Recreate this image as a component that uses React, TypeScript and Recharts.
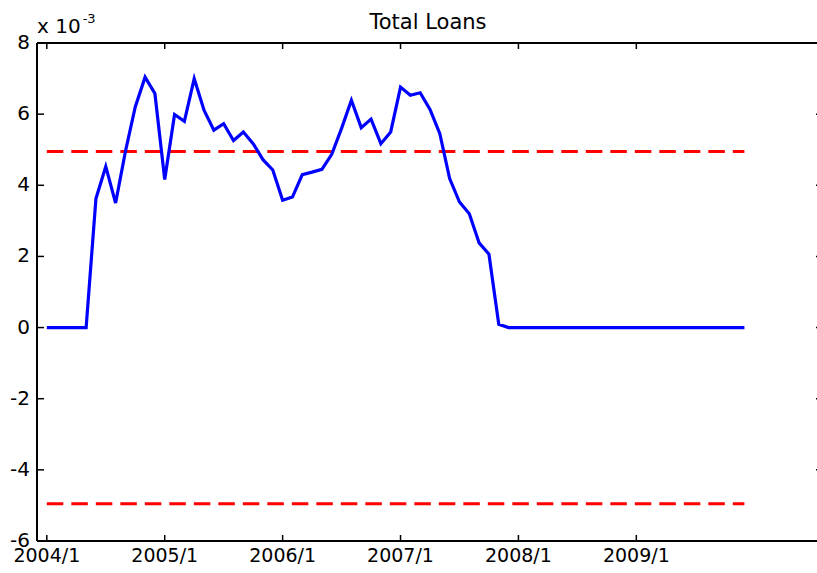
import React from 'react';
import { LineChart, Line, XAxis, YAxis } from 'recharts';

const FONT = 'DejaVu Sans';

// month index 0 = 2004/1 ... 71 = 2009/12
const xTickPositions = [0, 12, 24, 36, 48, 60];
const xTickLabels = ['2004/1', '2005/1', '2006/1', '2007/1', '2008/1', '2009/1'];
const yTicks = [-6, -4, -2, 0, 2, 4, 6, 8];

// Total Loans (x 10^-3)
const loans = [
  0, 0, 0, 0, 0, 3.63, 4.53, 3.5, 4.95, 6.2, 7.04, 6.58,
  4.16, 5.99, 5.8, 7.0, 6.11, 5.55, 5.73, 5.26, 5.5, 5.17, 4.72, 4.43,
  3.58, 3.67, 4.3, 4.37, 4.45, 4.87, 5.6, 6.39, 5.62, 5.86, 5.17, 5.5,
  6.76, 6.53, 6.6, 6.13, 5.45, 4.19, 3.53, 3.2, 2.38, 2.06, 0.09, 0,
  0, 0, 0, 0, 0, 0, 0, 0, 0, 0, 0, 0,
  0, 0, 0, 0, 0, 0, 0, 0, 0, 0, 0, 0,
];
const upperBound = 4.95;
const lowerBound = -4.95;

const data = loans.map((v, i) => ({ t: i, loans: v, upper: upperBound, lower: lowerBound }));

const BottomTick = (props: any) => {
  const { x, y, payload } = props;
  const idx = xTickPositions.indexOf(payload.value);
  return (
    <g>
      <line x1={x} y1={y} x2={x} y2={y - 6} stroke="#000" strokeWidth={1.5} />
      <text x={x} y={y + 21} textAnchor="middle" fontFamily={FONT} fontSize={19} fill="#000">
        {xTickLabels[idx]}
      </text>
    </g>
  );
};

const TopTick = (props: any) => {
  const { x, y } = props;
  return <line x1={x} y1={y} x2={x} y2={y + 6} stroke="#000" strokeWidth={1.5} />;
};

const LeftTick = (props: any) => {
  const { x, y, payload } = props;
  return (
    <g>
      <line x1={x} y1={y} x2={x + 7} y2={y} stroke="#000" strokeWidth={1.5} />
      <text x={x - 7} y={y + 6} textAnchor="end" fontFamily={FONT} fontSize={20} fill="#000">
        {String(payload.value)}
      </text>
    </g>
  );
};

const RightTick = (props: any) => {
  const { x, y } = props;
  return <line x1={x} y1={y} x2={x - 7} y2={y} stroke="#000" strokeWidth={1.5} />;
};

export default function App() {
  return (
    <div style={{ position: 'absolute', left: 0, top: 0, width: 817, height: 573, overflow: 'hidden', background: '#fff' }}>
      <LineChart width={830} height={573} data={data} margin={{ top: 42, right: 6, bottom: 2, left: 7 }}>
        <XAxis
          xAxisId="bottom"
          dataKey="t"
          type="number"
          domain={[-1, 79]}
          ticks={xTickPositions}
          interval={0}
          height={30}
          tickSize={0}
          tickMargin={0}
          tickLine={false}
          tick={<BottomTick />}
          axisLine={{ stroke: '#000', strokeWidth: 2 }}
          allowDataOverflow
        />
        <XAxis
          xAxisId="top"
          orientation="top"
          dataKey="t"
          type="number"
          domain={[-1, 79]}
          ticks={xTickPositions}
          interval={0}
          height={1}
          tickSize={0}
          tickMargin={0}
          tickLine={false}
          tick={<TopTick />}
          axisLine={{ stroke: '#000', strokeWidth: 2 }}
          allowDataOverflow
        />
        <YAxis
          yAxisId="left"
          type="number"
          domain={[-6, 8]}
          ticks={yTicks}
          interval={0}
          width={30}
          tickSize={0}
          tickMargin={0}
          tickLine={false}
          tick={<LeftTick />}
          axisLine={{ stroke: '#000', strokeWidth: 2 }}
          allowDataOverflow
        />
        <YAxis
          yAxisId="right"
          orientation="right"
          type="number"
          domain={[-6, 8]}
          ticks={yTicks}
          interval={0}
          width={1}
          tickSize={0}
          tickMargin={0}
          tickLine={false}
          tick={<RightTick />}
          axisLine={{ stroke: '#000', strokeWidth: 2 }}
          allowDataOverflow
        />
        <Line
          xAxisId="bottom"
          yAxisId="left"
          type="linear"
          dataKey="upper"
          stroke="#FF0000"
          strokeWidth={3}
          strokeDasharray="16.5 8"
          dot={false}
          activeDot={false}
          isAnimationActive={false}
        />
        <Line
          xAxisId="bottom"
          yAxisId="left"
          type="linear"
          dataKey="lower"
          stroke="#FF0000"
          strokeWidth={3}
          strokeDasharray="16.5 8"
          dot={false}
          activeDot={false}
          isAnimationActive={false}
        />
        <Line
          xAxisId="bottom"
          yAxisId="left"
          type="linear"
          dataKey="loans"
          stroke="#0000FF"
          strokeWidth={3.2}
          dot={false}
          activeDot={false}
          isAnimationActive={false}
        />
      </LineChart>
      <svg width={817} height={40} style={{ position: 'absolute', left: 0, top: 0 }}>
        <text x={428} y={29} textAnchor="middle" fontFamily={FONT} fontSize={21} fill="#000">
          Total Loans
        </text>
        <text x={37} y={33} fontFamily={FONT} fontSize={20} fill="#000">
          x 10
          <tspan fontSize={13} dx={2} dy={-10}>-3</tspan>
        </text>
      </svg>
    </div>
  );
}
